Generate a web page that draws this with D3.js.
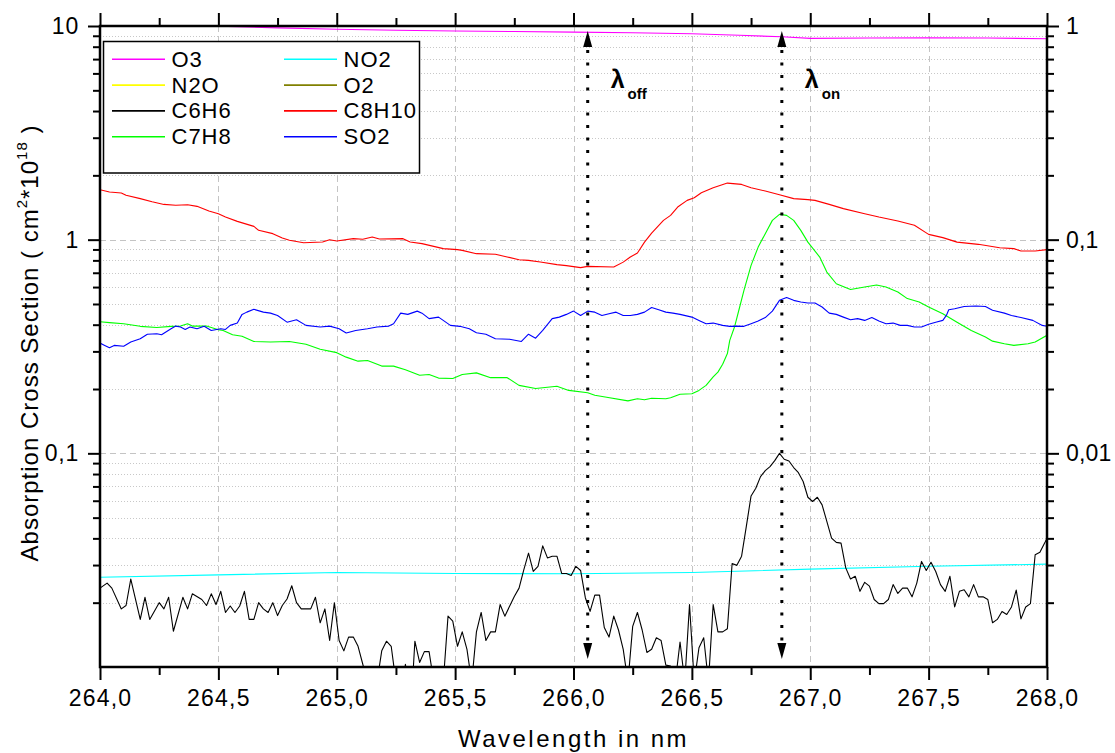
<!DOCTYPE html>
<html><head><meta charset="utf-8">
<script src="https://cdn.jsdelivr.net/npm/d3@7"></script>
<style>
body{margin:0;background:#fff}
text{font-family:Arial,"Liberation Sans",sans-serif;fill:#000}
</style>
</head><body>
<svg id="chart" width="1115" height="753"></svg>
<script>
// ---------- DATA (values on left axis, cm^2*10^18) ----------
const seriesNames  = ["O3","NO2","N2O","O2","C6H6","C8H10","C7H8","SO2"];
const seriesColors = ["#ff00ff","#00ffff","#ffff00","#808000","#000000","#ff0000","#00ff00","#0000ff"];

const xTickValues = [264,264.5,265,265.5,266,266.5,267,267.5,268];
const xTickLabels = ["264,0","264,5","265,0","265,5","266,0","266,5","267,0","267,5","268,0"];
const xMinorValues = [264.25,264.75,265.25,265.75,266.25,266.75,267.25,267.75];
const yLeftTickValues = [0.1,1,10];
const yLeftTickLabels = ["0,1","1","10"];
const yRightTickValues = [0.01,0.1,1];
const yRightTickLabels = ["0,01","0,1","1"];
const yMinorValues = [0.02,0.03,0.04,0.05,0.06,0.07,0.08,0.09,0.2,0.3,0.4,0.5,0.6,0.7,0.8,0.9,2,3,4,5,6,7,8,9];

const markerWavelengths = [266.06, 266.88];
const markerSubs = ["off","on"];

const o3Data = [[264.0,10.0],[264.25,10.0],[264.5,9.98],[264.75,9.8],[265.0,9.65],[265.25,9.55],[265.5,9.47],[265.75,9.42],[266.0,9.36],[266.25,9.3],[266.5,9.2],[266.7,9.05],[266.88,8.9],[267.0,8.75],[267.25,8.78],[267.5,8.8],[267.75,8.78],[268.0,8.72]];

const no2Data = [[264.0,0.0263],[264.5,0.0270],[265.0,0.0277],[265.5,0.0274],[266.0,0.0273],[266.5,0.0277],[267.0,0.0287],[267.5,0.0296],[268.0,0.0303]];

const n2oData = [];
const o2Data = [];

const c6h6Data = [[264.00,0.0234],[264.03,0.0247],[264.05,0.0234],[264.09,0.0187],[264.11,0.0194],[264.13,0.0258],[264.17,0.0167],[264.19,0.0212],[264.21,0.0167],[264.25,0.0200],[264.27,0.0187],[264.29,0.0212],[264.31,0.0147],[264.35,0.0212],[264.37,0.0187],[264.39,0.0220],[264.43,0.0207],[264.45,0.0194],[264.47,0.0220],[264.49,0.0196],[264.51,0.0226],[264.53,0.0180],[264.55,0.0193],[264.57,0.0180],[264.59,0.0193],[264.61,0.0226],[264.63,0.0167],[264.65,0.0167],[264.67,0.0200],[264.69,0.0187],[264.71,0.0180],[264.73,0.0200],[264.75,0.0174],[264.77,0.0194],[264.79,0.0208],[264.81,0.0240],[264.83,0.0200],[264.85,0.0187],[264.89,0.0187],[264.91,0.0212],[264.93,0.0161],[264.95,0.0187],[264.97,0.0133],[264.99,0.0200],[265.01,0.0133],[265.03,0.0119],[265.05,0.0138],[265.07,0.0138],[265.09,0.0125],[265.11,0.0103],[265.13,0.0085],[265.17,0.0085],[265.19,0.0119],[265.21,0.0132],[265.23,0.0125],[265.25,0.0085],[265.28,0.0085],[265.29,0.0103],[265.30,0.0085],[265.32,0.0085],[265.33,0.0132],[265.35,0.0105],[265.37,0.0118],[265.39,0.0118],[265.41,0.0085],[265.45,0.0085],[265.47,0.0173],[265.49,0.0164],[265.51,0.0125],[265.53,0.0146],[265.55,0.0121],[265.57,0.0085],[265.59,0.0146],[265.61,0.0180],[265.63,0.0133],[265.65,0.0146],[265.67,0.0146],[265.69,0.0196],[265.71,0.0173],[265.75,0.0214],[265.77,0.0234],[265.79,0.0285],[265.81,0.0341],[265.83,0.0280],[265.85,0.0296],[265.87,0.0369],[265.89,0.0324],[265.91,0.0330],[265.93,0.0330],[265.95,0.0274],[265.97,0.0274],[265.99,0.0268],[266.01,0.0296],[266.03,0.0283],[266.05,0.0211],[266.07,0.0182],[266.09,0.0217],[266.11,0.0217],[266.13,0.0153],[266.15,0.0138],[266.17,0.0173],[266.19,0.0149],[266.21,0.0121],[266.23,0.0085],[266.25,0.0155],[266.27,0.0180],[266.29,0.0149],[266.31,0.0117],[266.33,0.0121],[266.35,0.0137],[266.37,0.0133],[266.39,0.0102],[266.41,0.0101],[266.43,0.0085],[266.45,0.0131],[266.47,0.0085],[266.49,0.0196],[266.51,0.0085],[266.53,0.0123],[266.55,0.0137],[266.57,0.0085],[266.59,0.0196],[266.61,0.0146],[266.63,0.0146],[266.65,0.0151],[266.67,0.0305],[266.69,0.0299],[266.71,0.0330],[266.73,0.0455],[266.75,0.0632],[266.77,0.0687],[266.79,0.0778],[266.81,0.0830],[266.83,0.0867],[266.85,0.0924],[266.87,0.100],[266.89,0.0938],[266.91,0.0921],[266.93,0.0858],[266.95,0.0812],[266.97,0.0738],[266.99,0.0623],[267.01,0.0595],[267.03,0.0623],[267.05,0.0574],[267.07,0.0480],[267.09,0.0401],[267.11,0.0383],[267.13,0.0380],[267.15,0.0291],[267.17,0.0258],[267.19,0.0266],[267.21,0.0226],[267.23,0.0249],[267.25,0.0239],[267.27,0.0207],[267.29,0.0198],[267.31,0.0198],[267.33,0.0207],[267.35,0.0243],[267.37,0.0221],[267.39,0.0234],[267.41,0.0234],[267.43,0.0213],[267.45,0.0247],[267.47,0.0312],[267.49,0.0283],[267.51,0.0309],[267.53,0.0280],[267.55,0.0243],[267.57,0.0226],[267.59,0.0266],[267.61,0.0191],[267.63,0.0226],[267.65,0.0230],[267.67,0.0213],[267.69,0.0243],[267.71,0.0213],[267.73,0.0213],[267.75,0.0207],[267.77,0.0161],[267.79,0.0167],[267.81,0.0182],[267.83,0.0176],[267.85,0.0191],[267.87,0.0229],[267.89,0.0168],[267.91,0.0191],[267.93,0.0198],[267.95,0.0335],[267.97,0.0344],[267.99,0.0380],[268.00,0.0401]];

const c8h10Data = [[264.00,1.714],[264.04,1.671],[264.09,1.653],[264.11,1.613],[264.17,1.556],[264.22,1.506],[264.27,1.462],[264.32,1.448],[264.37,1.458],[264.41,1.432],[264.46,1.362],[264.50,1.323],[264.53,1.277],[264.58,1.218],[264.65,1.154],[264.67,1.106],[264.73,1.067],[264.77,1.018],[264.80,0.993],[264.86,0.968],[264.94,0.975],[264.97,1.0],[265.00,0.986],[265.07,1.011],[265.11,1.004],[265.15,1.029],[265.18,1.007],[265.28,1.011],[265.31,0.975],[265.36,0.958],[265.45,0.908],[265.51,0.898],[265.53,0.891],[265.59,0.860],[265.67,0.854],[265.72,0.830],[265.77,0.806],[265.81,0.800],[265.86,0.786],[265.93,0.764],[265.97,0.756],[266.03,0.740],[266.06,0.750],[266.17,0.745],[266.21,0.785],[266.24,0.829],[266.27,0.866],[266.30,0.974],[266.33,1.074],[266.38,1.231],[266.41,1.299],[266.44,1.421],[266.48,1.527],[266.51,1.572],[266.54,1.659],[266.59,1.751],[266.65,1.840],[266.71,1.814],[266.75,1.751],[266.81,1.688],[266.87,1.624],[266.93,1.556],[266.99,1.539],[267.02,1.527],[267.08,1.463],[267.14,1.397],[267.23,1.323],[267.29,1.276],[267.37,1.223],[267.44,1.167],[267.50,1.059],[267.56,1.022],[267.62,0.974],[267.71,0.951],[267.80,0.917],[267.86,0.908],[267.89,0.885],[267.95,0.885],[268.00,0.898]];

const c7h8Data = [[264.00,0.413],[264.04,0.409],[264.10,0.404],[264.17,0.393],[264.24,0.388],[264.30,0.393],[264.34,0.394],[264.37,0.404],[264.39,0.394],[264.45,0.394],[264.50,0.379],[264.52,0.376],[264.56,0.359],[264.60,0.353],[264.65,0.334],[264.72,0.332],[264.80,0.334],[264.87,0.324],[264.93,0.307],[265.00,0.296],[265.04,0.282],[265.09,0.270],[265.13,0.272],[265.19,0.256],[265.24,0.256],[265.29,0.246],[265.35,0.232],[265.39,0.234],[265.43,0.225],[265.49,0.224],[265.53,0.234],[265.59,0.238],[265.65,0.226],[265.72,0.226],[265.77,0.208],[265.84,0.201],[265.93,0.206],[265.98,0.197],[266.06,0.192],[266.09,0.187],[266.14,0.183],[266.23,0.176],[266.27,0.180],[266.30,0.178],[266.33,0.181],[266.39,0.180],[266.41,0.182],[266.45,0.189],[266.50,0.190],[266.53,0.197],[266.56,0.208],[266.59,0.228],[266.61,0.240],[266.63,0.261],[266.65,0.293],[266.66,0.338],[266.68,0.390],[266.70,0.475],[266.72,0.579],[266.75,0.758],[266.78,0.923],[266.81,1.067],[266.84,1.231],[266.87,1.314],[266.90,1.299],[266.93,1.231],[266.96,1.105],[266.99,0.974],[267.04,0.829],[267.07,0.705],[267.11,0.622],[267.17,0.585],[267.23,0.600],[267.28,0.613],[267.32,0.600],[267.37,0.569],[267.41,0.530],[267.46,0.511],[267.50,0.484],[267.56,0.450],[267.62,0.411],[267.68,0.376],[267.74,0.350],[267.77,0.335],[267.82,0.326],[267.86,0.320],[267.92,0.326],[267.95,0.332],[268.00,0.357]];

const so2Data = [[264.00,0.328],[264.02,0.320],[264.04,0.312],[264.06,0.320],[264.10,0.317],[264.13,0.332],[264.17,0.344],[264.20,0.361],[264.24,0.363],[264.26,0.359],[264.30,0.383],[264.32,0.394],[264.34,0.390],[264.36,0.380],[264.38,0.390],[264.41,0.383],[264.44,0.393],[264.47,0.376],[264.51,0.383],[264.53,0.380],[264.55,0.397],[264.58,0.407],[264.60,0.447],[264.62,0.458],[264.65,0.472],[264.69,0.458],[264.72,0.453],[264.75,0.442],[264.79,0.411],[264.83,0.422],[264.87,0.397],[264.93,0.390],[264.97,0.394],[265.01,0.383],[265.04,0.366],[265.08,0.376],[265.13,0.383],[265.17,0.390],[265.22,0.394],[265.24,0.404],[265.27,0.453],[265.30,0.447],[265.34,0.463],[265.36,0.453],[265.39,0.427],[265.43,0.434],[265.48,0.397],[265.52,0.393],[265.56,0.383],[265.59,0.367],[265.63,0.361],[265.67,0.344],[265.73,0.342],[265.78,0.334],[265.81,0.361],[265.84,0.346],[265.87,0.376],[265.91,0.427],[265.94,0.434],[265.97,0.447],[266.00,0.463],[266.03,0.442],[266.06,0.463],[266.09,0.458],[266.12,0.442],[266.15,0.450],[266.18,0.458],[266.21,0.442],[266.24,0.442],[266.27,0.447],[266.30,0.458],[266.33,0.481],[266.36,0.470],[266.39,0.458],[266.42,0.453],[266.45,0.447],[266.50,0.434],[266.53,0.419],[266.56,0.404],[266.59,0.407],[266.63,0.397],[266.66,0.393],[266.69,0.394],[266.72,0.393],[266.75,0.404],[266.78,0.416],[266.81,0.432],[266.84,0.463],[266.87,0.520],[266.90,0.536],[266.93,0.520],[266.96,0.511],[266.99,0.505],[267.02,0.505],[267.05,0.484],[267.08,0.453],[267.11,0.447],[267.14,0.434],[267.17,0.422],[267.20,0.427],[267.23,0.419],[267.26,0.432],[267.29,0.416],[267.32,0.404],[267.35,0.407],[267.38,0.397],[267.41,0.397],[267.44,0.390],[267.47,0.390],[267.50,0.402],[267.53,0.411],[267.56,0.419],[267.575,0.442],[267.585,0.470],[267.61,0.475],[267.65,0.487],[267.70,0.489],[267.74,0.487],[267.77,0.467],[267.82,0.453],[267.85,0.442],[267.89,0.432],[267.94,0.419],[267.98,0.397],[268.00,0.393]];

const seriesData = [o3Data,no2Data,n2oData,o2Data,c6h6Data,c8h10Data,c7h8Data,so2Data];

// ---------- LAYOUT ----------
const svg = d3.select("#chart");
const L = 100, R = 1047, T = 26, B = 667;
const x = d3.scaleLinear().domain([264,268]).range([L,R]);
const y = d3.scaleLog().domain([0.01,10]).range([B,T]);
const yR = d3.scaleLog().domain([0.001,1]).range([B,T]);

svg.append("rect").attr("width",1115).attr("height",753).attr("fill","#fff");

// grid
const grid = svg.append("g");
grid.selectAll(".gx").data(xTickValues.filter(v=>v>264&&v<268)).enter().append("line")
  .attr("x1",d=>Math.round(x(d))+0.5).attr("x2",d=>Math.round(x(d))+0.5).attr("y1",T).attr("y2",B)
  .attr("stroke","#c4c4c4").attr("stroke-width",1).attr("stroke-dasharray","6,4");
grid.selectAll(".gy").data([0.1,1]).enter().append("line")
  .attr("x1",L).attr("x2",R).attr("y1",d=>Math.round(y(d))+0.5).attr("y2",d=>Math.round(y(d))+0.5)
  .attr("stroke","#c4c4c4").attr("stroke-width",1).attr("stroke-dasharray","6,4");
grid.selectAll(".gym").data(yMinorValues).enter().append("line")
  .attr("x1",L).attr("x2",R).attr("y1",d=>Math.round(y(d))+0.5).attr("y2",d=>Math.round(y(d))+0.5)
  .attr("stroke","#c8c8c8").attr("stroke-width",1).attr("stroke-dasharray","1,2");

// clip
svg.append("defs").append("clipPath").attr("id","clip").append("rect")
  .attr("x",L).attr("y",T).attr("width",R-L).attr("height",B-T);

const line = d3.line().x(d=>x(d[0])).y(d=>y(d[1]));
const plot = svg.append("g").attr("clip-path","url(#clip)");
seriesData.forEach((data,i)=>{
  if(!data.length) return;
  plot.append("path").datum(data).attr("d",line)
    .attr("fill","none").attr("stroke",seriesColors[i]).attr("stroke-width",1.1)
    .attr("stroke-linejoin","round");
});

// legend
const lg = svg.append("g");
lg.append("rect").attr("x",103.5).attr("y",41.5).attr("width",316).attr("height",131.5)
  .attr("fill","#fff").attr("stroke","#000").attr("stroke-width",1.5);
seriesNames.forEach((n,i)=>{
  const col = i%2, row = Math.floor(i/2);
  const cy = 59.3 + row*25.8;
  const lx = col ? 284 : 112;
  lg.append("line").attr("x1",lx).attr("x2",lx+53).attr("y1",cy).attr("y2",cy)
    .attr("stroke",seriesColors[i]).attr("stroke-width",1.6);
  lg.append("text").attr("x",lx+59.5).attr("y",cy+7.5).text(n)
    .style("font-size","22px").style("letter-spacing","1px");
});

// axes
const fmtX = d=>xTickLabels[xTickValues.indexOf(d)];
const styleAxis = ls => g=>{
  g.select(".domain").remove();
  g.selectAll(".tick line").attr("stroke","#000").attr("stroke-width",2);
  g.selectAll(".tick text").style("font-family","Arial, 'Liberation Sans', sans-serif")
    .style("font-size","23px").style("letter-spacing",ls+"px").attr("fill","#000");
};
svg.append("g").attr("transform",`translate(0,${B})`)
  .call(d3.axisBottom(x).tickValues(xTickValues).tickSize(13).tickPadding(10).tickFormat(fmtX)).call(styleAxis(1.2));
svg.append("g").attr("transform",`translate(0,${B})`)
  .call(d3.axisBottom(x).tickValues(xMinorValues).tickSize(8).tickFormat("")).call(styleAxis(0));
svg.append("g").attr("transform",`translate(0,${T})`)
  .call(d3.axisTop(x).tickValues(xTickValues).tickSize(13).tickFormat("")).call(styleAxis(0));
svg.append("g").attr("transform",`translate(0,${T})`)
  .call(d3.axisTop(x).tickValues(xMinorValues).tickSize(8).tickFormat("")).call(styleAxis(0));
svg.append("g").attr("transform",`translate(${L},0)`)
  .call(d3.axisLeft(y).tickValues(yLeftTickValues).tickSize(12).tickPadding(9)
    .tickFormat(d=>yLeftTickLabels[yLeftTickValues.indexOf(d)])).call(styleAxis(0.8));
svg.append("g").attr("transform",`translate(${L},0)`)
  .call(d3.axisLeft(y).tickValues(yMinorValues).tickSize(7).tickFormat("")).call(styleAxis(0));
svg.append("g").attr("transform",`translate(${R},0)`)
  .call(d3.axisRight(yR).tickValues(yRightTickValues).tickSize(12).tickPadding(7)
    .tickFormat(d=>yRightTickLabels[yRightTickValues.indexOf(d)])).call(styleAxis(0.2));
svg.append("g").attr("transform",`translate(${R},0)`)
  .call(d3.axisRight(yR).tickValues(yMinorValues.map(v=>v/10)).tickSize(7).tickFormat("")).call(styleAxis(0));

svg.append("rect").attr("x",L).attr("y",T).attr("width",R-L).attr("height",B-T)
  .attr("fill","none").attr("stroke","#000").attr("stroke-width",2.5);

// markers
markerWavelengths.forEach((w,i)=>{
  const mx = x(w);
  svg.append("line").attr("x1",mx).attr("x2",mx).attr("y1",50).attr("y2",642)
    .attr("stroke","#000").attr("stroke-width",3).attr("stroke-dasharray","3,9.5");
  svg.append("path").attr("d",`M${mx},${T+5}L${mx-4.5},${T+21}L${mx+4.5},${T+21}Z`).attr("fill","#000");
  svg.append("path").attr("d",`M${mx},${B-8}L${mx-4.5},${B-24}L${mx+4.5},${B-24}Z`).attr("fill","#000");
  const t = svg.append("text").attr("x",mx+23).attr("y",88).style("font-weight","bold");
  t.append("tspan").text("λ").style("font-size","25px");
  t.append("tspan").attr("dy",11).attr("dx",3).text(markerSubs[i]).style("font-size","15px");
});

// titles
svg.append("text").attr("x",(L+R)/2).attr("y",747).attr("text-anchor","middle")
  .style("font-size","24px").style("letter-spacing","2.5px").text("Wavelength in nm");
const yt = svg.append("text").attr("transform","translate(38,343) rotate(-90)").attr("text-anchor","middle")
  .style("font-size","24px").style("letter-spacing","1px");
yt.append("tspan").text("Absorption Cross Section ( cm");
yt.append("tspan").attr("dy",-11).style("font-size","15px").text("2");
yt.append("tspan").attr("dy",11).text("*10");
yt.append("tspan").attr("dy",-11).style("font-size","15px").text("18");
yt.append("tspan").attr("dy",11).text(" )");
</script>
</body></html>
